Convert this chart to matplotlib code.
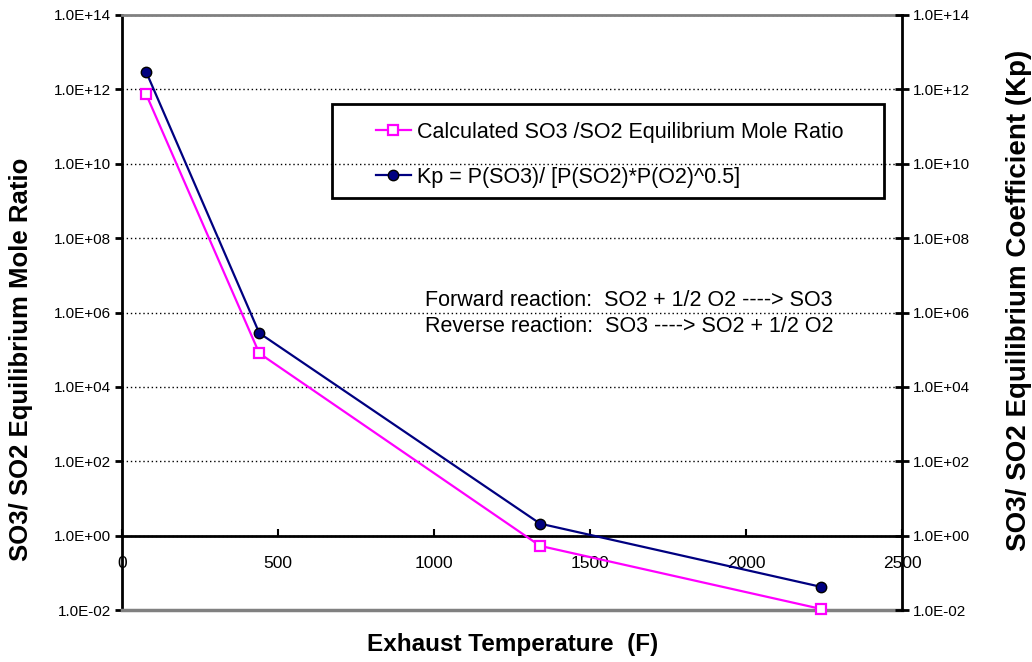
import numpy as np
import matplotlib
matplotlib.use('Agg')
import matplotlib.pyplot as plt
from matplotlib.ticker import FixedLocator, FuncFormatter
from matplotlib.patches import Rectangle

plt.rcParams['font.family'] = ['Liberation Sans', 'DejaVu Sans']

# data
temp_f = [77, 440, 1340, 2240]
mole_ratio = [7.5e11, 8.0e4, 0.53, 0.0107]
kp = [3.0e12, 2.8e5, 2.1, 0.042]

x_ticks = [0, 500, 1000, 1500, 2000, 2500]
y_ticks = [1e-2, 1e0, 1e2, 1e4, 1e6, 1e8, 1e10, 1e12, 1e14]

label_ratio = 'Calculated SO3 /SO2 Equilibrium Mole Ratio'
label_kp = 'Kp = P(SO3)/ [P(SO2)*P(O2)^0.5]'

fig = plt.figure(figsize=(10.32, 6.62), dpi=100)
ax = fig.add_axes([122/1032, 1 - 610/662, 780/1032, 595/662])

ax.plot(temp_f, mole_ratio, color='#FF00FF', lw=1.6, marker='s', ms=7.5,
        mfc='white', mec='#FF00FF', mew=1.6, label=label_ratio, zorder=5, clip_on=False)
ax.plot(temp_f, kp, color='#000080', lw=1.6, marker='o', ms=7.5,
        mfc='#000080', mec='black', mew=1, label=label_kp, zorder=6, clip_on=False)

ax.set_yscale('log')
ax.set_xlim(0, 2500)
ax.set_ylim(1e-2, 1e14)

fmt = FuncFormatter(lambda v, p: f'{v:.1E}')
ax.yaxis.set_major_locator(FixedLocator(y_ticks))
ax.yaxis.set_major_formatter(fmt)
ax.yaxis.set_minor_locator(FixedLocator([]))
ax.set_xticks(x_ticks)
ax.set_xticklabels([str(t) for t in x_ticks])

ax.tick_params(axis='y', direction='out', length=5, width=2, labelsize=11, pad=3)
ax.tick_params(axis='x', direction='in', length=5, width=1.5, labelsize=12.5, pad=15)

ax.yaxis.grid(True, color='black', linestyle=(0, (1, 2)), lw=1)
ax.set_axisbelow(True)

# x axis crosses at y = 1
ax.spines['bottom'].set_position(('data', 1))
ax.spines['bottom'].set_linewidth(2)
ax.spines['left'].set_linewidth(2)
ax.spines['right'].set_visible(False)
ax.spines['top'].set_color('#808080')
ax.spines['top'].set_linewidth(2)
ax.axhline(1e-2, color='#808080', lw=2.5, clip_on=False, zorder=3)

ax2 = ax.twinx()
ax2.set_yscale('log')
ax2.set_ylim(1e-2, 1e14)
ax2.yaxis.set_major_locator(FixedLocator(y_ticks))
ax2.yaxis.set_major_formatter(fmt)
ax2.yaxis.set_minor_locator(FixedLocator([]))
ax2.tick_params(axis='y', direction='inout', length=10, width=2, labelsize=11, pad=3)
for s in ['left', 'top', 'bottom']:
    ax2.spines[s].set_visible(False)
ax2.spines['right'].set_linewidth(2)

# legend with hand drawn box
ax.add_patch(Rectangle((0.269, 0.692), 0.708, 0.158, transform=ax.transAxes,
                       fill=False, ec='black', lw=2, zorder=7, clip_on=False))
ax2.legend(*ax.get_legend_handles_labels(), loc='upper left',
           bbox_to_anchor=(0.312, 0.839), frameon=False, fontsize=15.5,
           handlelength=1.6, handletextpad=0.3, labelspacing=1.12, borderpad=0)

ax.text(0.388, 0.521, 'Forward reaction:  SO2 + 1/2 O2 ----> SO3', transform=ax.transAxes,
        fontsize=15.5, va='center')
ax.text(0.388, 0.477, 'Reverse reaction:  SO3 ----> SO2 + 1/2 O2', transform=ax.transAxes,
        fontsize=15.5, va='center')

fig.text(513/1032, 1 - 645/662, 'Exhaust Temperature  (F)', fontsize=17.5, fontweight='bold',
         ha='center', va='center')
fig.text(21/1032, 1 - 359/662, 'SO3/ SO2 Equilibrium Mole Ratio', fontsize=18.5,
         fontweight='bold', rotation=90, ha='center', va='center')
fig.text(1019/1032, 1 - 300/662, 'SO3/ SO2 Equilibrium Coefficient (Kp)', fontsize=20,
         fontweight='bold', rotation=90, ha='center', va='center')

fig.savefig('out.png', dpi=100)
